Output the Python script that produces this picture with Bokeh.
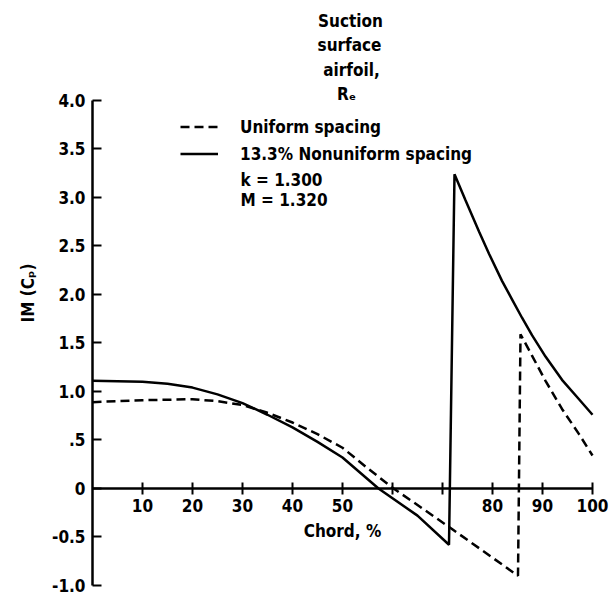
from bokeh.plotting import figure
from bokeh.models import LinearAxis, FixedTicker, Range1d, Legend, LegendItem, Label
from bokeh.embed import file_html
from bokeh.resources import INLINE

# ---- data ----
uniform_x = [0, 10, 20, 25, 30, 35, 40, 45, 50, 55, 60.2, 65, 71.4, 78, 85.1, 85.6, 87.9, 90.6, 93.9, 97.3, 100]
uniform_y = [0.89, 0.91, 0.92, 0.90, 0.86, 0.78, 0.68, 0.56, 0.42, 0.21, 0.0, -0.17, -0.40, -0.64, -0.90, 1.59, 1.37, 1.11, 0.82, 0.56, 0.34]

nonuniform_x = [0, 10, 15, 20, 25, 30, 35, 40, 45, 50, 57.2, 65, 71.3, 72.4, 74.6, 77.3, 79.3, 81.9, 83.9, 85.9, 87.9, 90.6, 93.9, 97.3, 100]
nonuniform_y = [1.11, 1.10, 1.08, 1.04, 0.97, 0.88, 0.76, 0.63, 0.48, 0.32, 0.0, -0.28, -0.58, 3.24, 2.97, 2.65, 2.42, 2.14, 1.95, 1.76, 1.58, 1.36, 1.12, 0.92, 0.76]

x_ticks = [10, 20, 30, 40, 50, 60, 70, 80, 90, 100]
x_tick_labels = ["10", "20", "30", "40", "50", "", "", "80", "90", "100"]
y_ticks = [4.0, 3.5, 3.0, 2.5, 2.0, 1.5, 1.0, 0.5, 0.0, -0.5, -1.0]
y_tick_labels = ["4.0", "3.5", "3.0", "2.5", "2.0", "1.5", "1.0", ".5", "0", "-0.5", "-1.0"]

series_labels = ["Uniform spacing", "13.3% Nonuniform spacing"]
title_lines = ["Suction", "surface", "airfoil,", "R\u2091"]
param_lines = ["k = 1.300", "M = 1.320"]

FONT = "DejaVu Sans Condensed"
FS = "17px"

p = figure(width=610, height=596, output_backend="svg", toolbar_location=None,
           x_range=Range1d(0, 103.6), y_range=Range1d(-1.0, 5.03),
           x_axis_type=None, y_axis_type=None,
           min_border_left=92, min_border_right=0, min_border_top=0, min_border_bottom=11)
p.outline_line_color = None
p.background_fill_color = "white"
p.border_fill_color = "white"

def style_axis(ax):
    ax.axis_line_color = "black"
    ax.axis_line_width = 2.5
    ax.major_tick_line_color = "black"
    ax.major_tick_line_width = 2
    ax.minor_tick_line_color = None
    ax.major_label_text_font = FONT
    ax.major_label_text_font_style = "bold"
    ax.major_label_text_font_size = FS
    ax.major_label_text_color = "black"
    ax.axis_label_text_font = FONT
    ax.axis_label_text_font_style = "bold"
    ax.axis_label_text_font_size = FS
    ax.axis_label_text_color = "black"

yaxis = LinearAxis(bounds=(-1.0, 4.0), ticker=FixedTicker(ticks=y_ticks, minor_ticks=[]),
                   major_label_overrides=dict(zip(y_ticks, y_tick_labels)),
                   axis_label="IM (C\u209a)")
style_axis(yaxis)
yaxis.major_tick_in = 9
yaxis.major_tick_out = 0
yaxis.major_label_standoff = 7
yaxis.axis_label_standoff = 11
p.add_layout(yaxis, "left")

xaxis = LinearAxis(fixed_location=0, bounds=(0, 100),
                   ticker=FixedTicker(ticks=x_ticks, minor_ticks=[]),
                   major_label_overrides=dict(zip(x_ticks, x_tick_labels)),
                   axis_label="Chord, %")
style_axis(xaxis)
xaxis.major_tick_in = 6
xaxis.major_tick_out = 6
xaxis.major_label_standoff = 5
xaxis.axis_label_standoff = 5
p.add_layout(xaxis, "below")

r_u = p.line(uniform_x, uniform_y, line_color="black", line_width=2.5, line_dash="9 5")
r_n = p.line(nonuniform_x, nonuniform_y, line_color="black", line_width=2.5)

legend = Legend(items=[LegendItem(label=series_labels[0], renderers=[r_u]),
                       LegendItem(label=series_labels[1], renderers=[r_n])],
                location=(88, 418), padding=0, margin=0, spacing=0,
                glyph_width=38, glyph_height=27, label_height=27, label_standoff=22,
                background_fill_alpha=0, border_line_color=None,
                label_text_font=FONT, label_text_font_style="bold",
                label_text_font_size=FS, label_text_color="black")
p.add_layout(legend)

title_pos = [(51.6, 4.82), (51.4, 4.57), (51.8, 4.31), (50.8, 4.07)]
for (tx, ty), t in zip(title_pos, title_lines):
    p.add_layout(Label(x=tx, y=ty, text=t, text_align="center", text_baseline="middle",
                       text_font=FONT, text_font_style="bold", text_font_size=FS,
                       text_color="black"))

param_pos = [(29.6, 3.18), (29.6, 2.97)]
for (tx, ty), t in zip(param_pos, param_lines):
    p.add_layout(Label(x=tx, y=ty, text=t, text_align="left", text_baseline="middle",
                       text_font=FONT, text_font_style="bold", text_font_size=FS,
                       text_color="black"))

open("out.html", "w").write(file_html(p, INLINE))
